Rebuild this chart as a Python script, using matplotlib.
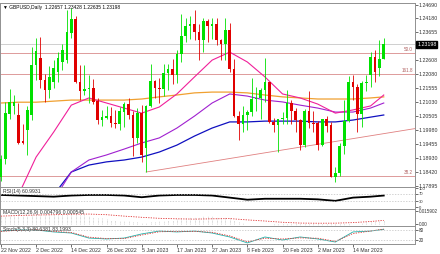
import numpy as np
import matplotlib
matplotlib.use("Agg")
import matplotlib.pyplot as plt
import matplotlib.transforms as mtransforms

plt.rcParams['font.family'] = ['Liberation Sans', 'DejaVu Sans']

# ---------------------------
# Data
# ---------------------------
date_labels = ["22 Nov 2022", "2 Dec 2022", "14 Dec 2022", "26 Dec 2022", "5 Jan 2023",
               "17 Jan 2023", "27 Jan 2023", "8 Feb 2023", "20 Feb 2023", "2 Mar 2023", "14 Mar 2023"]
date_bars = [0, 8, 16, 24, 32, 40, 48, 56, 64, 72, 80]

opens = [1.1823, 1.1888, 1.2060, 1.2090, 1.2055, 1.1955, 1.2000, 1.2055, 1.2243, 1.2269,
         1.2187, 1.2149, 1.2179, 1.2216, 1.2254, 1.2262, 1.2363, 1.2416, 1.2179, 1.2145,
         1.2153, 1.2156, 1.2105, 1.2035, 1.2045, 1.2050, 1.2026, 1.2023, 1.2068, 1.2097,
         1.2055, 1.1970, 1.2063, 1.1931, 1.2089, 1.2181, 1.2155, 1.2152, 1.2212, 1.2228,
         1.2204, 1.2284, 1.2352, 1.2390, 1.2395, 1.2365, 1.2336, 1.2406, 1.2390, 1.2395,
         1.2335, 1.2320, 1.2374, 1.2227, 1.2051, 1.2020, 1.2056, 1.2067, 1.2114, 1.2118,
         1.2147, 1.2177, 1.2027, 1.2019, 1.2039, 1.2042, 1.2099, 1.2071, 1.2036, 1.1942,
         1.2069, 1.2026, 1.2023, 1.1943, 1.2040, 1.2015, 1.1823, 1.1838, 1.1938, 1.2033,
         1.2178, 1.2159, 1.2060, 1.2174, 1.2205, 1.2273, 1.2232, 1.22657]
highs = [1.1903, 1.2105, 1.2154, 1.2130, 1.2100, 1.2020, 1.2090, 1.2310, 1.2345, 1.2348,
         1.2210, 1.2240, 1.2260, 1.2290, 1.2320, 1.2449, 1.2455, 1.2425, 1.2242, 1.2242,
         1.2205, 1.2190, 1.2118, 1.2075, 1.2090, 1.2085, 1.2075, 1.2085, 1.2105, 1.2118,
         1.2070, 1.2080, 1.2092, 1.2092, 1.2246, 1.2188, 1.2195, 1.2247, 1.2246, 1.2266,
         1.2300, 1.2435, 1.2419, 1.2425, 1.2448, 1.2397, 1.2418, 1.2417, 1.2420, 1.2420,
         1.2340, 1.2418, 1.2401, 1.2265, 1.2070, 1.2090, 1.2075, 1.2195, 1.2160, 1.2155,
         1.2270, 1.2180, 1.2045, 1.2040, 1.2065, 1.2148, 1.2110, 1.2080, 1.2040, 1.2078,
         1.2145, 1.2070, 1.2032, 1.2040, 1.2050, 1.2030, 1.1858, 1.1950, 1.2110, 1.2203,
         1.2205, 1.2170, 1.2183, 1.2204, 1.2290, 1.2300, 1.2336, 1.23428]
lows = [1.1808, 1.1870, 1.2040, 1.2060, 1.1945, 1.1945, 1.1905, 1.2035, 1.2185, 1.2155,
        1.2105, 1.2120, 1.2155, 1.2180, 1.2225, 1.2250, 1.2345, 1.2175, 1.2110, 1.2130,
        1.2100, 1.2095, 1.2020, 1.2015, 1.2040, 1.2010, 1.2005, 1.2000, 1.2010, 1.2040,
        1.1900, 1.1950, 1.1880, 1.1841, 1.2085, 1.2120, 1.2100, 1.2125, 1.2150, 1.2170,
        1.2175, 1.2255, 1.2330, 1.2340, 1.2335, 1.2262, 1.2290, 1.2330, 1.2340, 1.2316,
        1.2262, 1.2262, 1.2215, 1.2048, 1.1962, 1.1990, 1.2000, 1.2050, 1.2070, 1.2040,
        1.2105, 1.2025, 1.1990, 1.1915, 1.2020, 1.2022, 1.2020, 1.1990, 1.1923, 1.1935,
        1.2005, 1.1993, 1.1925, 1.1940, 1.1990, 1.1823, 1.1803, 1.1825, 1.1910, 1.2030,
        1.2110, 1.1990, 1.2010, 1.2145, 1.2160, 1.2180, 1.2200, 1.22635]
closes = [1.1888, 1.2060, 1.2104, 1.2104, 1.1950, 1.1950, 1.2074, 1.2243, 1.2293, 1.2187,
          1.2150, 1.2198, 1.2231, 1.2269, 1.2299, 1.2367, 1.2416, 1.2179, 1.2145, 1.2153,
          1.2156, 1.2105, 1.2035, 1.2045, 1.2050, 1.2026, 1.2023, 1.2068, 1.2097, 1.2055,
          1.1970, 1.2063, 1.1905, 1.2089, 1.2181, 1.2155, 1.2152, 1.2212, 1.2228, 1.2204,
          1.2284, 1.2352, 1.2390, 1.2395, 1.2365, 1.2336, 1.2406, 1.2390, 1.2395, 1.2335,
          1.2320, 1.2374, 1.2227, 1.2051, 1.2020, 1.2056, 1.2067, 1.2114, 1.2118, 1.2147,
          1.2177, 1.2027, 1.2019, 1.2039, 1.2042, 1.2099, 1.2071, 1.2036, 1.1942, 1.2069,
          1.2026, 1.2023, 1.1943, 1.2040, 1.2015, 1.1823, 1.1838, 1.1938, 1.2033, 1.2178,
          1.2159, 1.2060, 1.2174, 1.2177, 1.2273, 1.2216, 1.2265, 1.23198]

# moving averages, read every 4 bars
ma_bars = [0, 4, 8, 12, 16, 20, 24, 28, 32, 36, 40, 44, 48, 52, 56, 60, 64, 68, 72, 76, 80, 84, 87]
ma_pink = [1.1620, 1.1755, 1.1897, 1.1991, 1.2092, 1.2119, 1.2100, 1.2081, 1.2062, 1.2085, 1.2134, 1.2198,
           1.2261, 1.2291, 1.2254, 1.2198, 1.2134, 1.2119, 1.2096, 1.2062, 1.2074, 1.2089, 1.2130]
ma_purple = [1.1600, 1.1640, 1.1680, 1.1736, 1.1841, 1.1886, 1.1905, 1.1927, 1.1950, 1.1969, 1.2006, 1.2051,
             1.2100, 1.2134, 1.2126, 1.2111, 1.2104, 1.2092, 1.2081, 1.2066, 1.2066, 1.2081, 1.2100]
ma_blue = [1.1500, 1.1550, 1.1600, 1.1755, 1.1841, 1.1867, 1.1879, 1.1886, 1.1897, 1.1916, 1.1942, 1.1976,
           1.2006, 1.2029, 1.2029, 1.2032, 1.2032, 1.2032, 1.2029, 1.2029, 1.2036, 1.2047, 1.2055]
ma_orange = [1.2100, 1.2103, 1.2103, 1.2107, 1.2111, 1.2111, 1.2111, 1.2111, 1.2115, 1.2123, 1.2130, 1.2138,
             1.2141, 1.2141, 1.2138, 1.2130, 1.2123, 1.2119, 1.2115, 1.2115, 1.2115, 1.2119, 1.2123]

trend_bars = [33, 87]
trend_prices = [1.1841, 1.1985]

fib_levels = [1.22877, 1.22089, 1.18260]
fib_names = ["50.0", "161.8", "38.2"]
last_price = 1.23198

# 1.23130 sits under the price box in the chart, so it is left out
price_ticks = [1.24690, 1.24180, 1.23655, 1.22608, 1.22080, 1.21555, 1.21030,
               1.20505, 1.19980, 1.19455, 1.18930, 1.18420, 1.17895]

ind_bars = [0, 4, 8, 12, 16, 20, 24, 28, 32, 36, 40, 44, 48, 52, 56, 60, 64, 68, 72, 76, 80, 84, 87]
rsi = [64, 61, 58, 55, 61, 64, 64, 61, 52, 61, 64, 64, 61, 50, 39, 44, 44, 44, 41, 33, 50, 55, 61]
macd_main = [0.0100, 0.0106, 0.0112, 0.0116, 0.0112, 0.0106, 0.0104, 0.0114, 0.0124, 0.0124,
             0.0121, 0.0121, 0.0122, 0.0124, 0.0126, 0.0130, 0.0135, 0.0128, 0.0119, 0.0111,
             0.0104, 0.0094, 0.0081, 0.0071, 0.0062, 0.0053, 0.0045, 0.0041, 0.0039, 0.0034,
             0.0023, 0.0021, 0.0009, 0.0012, 0.0022, 0.0028, 0.0032, 0.0040, 0.0047, 0.0050,
             0.0059, 0.0070, 0.0081, 0.0089, 0.0092, 0.0092, 0.0097, 0.0098, 0.0098, 0.0093,
             0.0087, 0.0088, 0.0073, 0.0047, 0.0024, 0.0009, -0.0002, -0.0004, -0.0005, -0.0004,
             -0.0001, -0.0006, -0.0009, -0.0011, -0.0012, -0.0010, -0.0009, -0.0010, -0.0014, -0.0012,
             -0.0012, -0.0012, -0.0015, -0.0013, -0.0013, -0.0018, -0.0021, -0.0020, -0.0015, -0.0008,
             0.0002, 0.0006, 0.0014, 0.0022, 0.0030, 0.0036, 0.0041, 0.0048]
macd_signal = [0.0100, 0.0108, 0.0114, 0.0118, 0.0124, 0.0126, 0.0118, 0.0100, 0.0085, 0.0072, 0.0066, 0.0062,
               0.0066, 0.0069, 0.0052, 0.0038, 0.0022, 0.0012, 0.0010, 0.0011, 0.0018, 0.0032, 0.0046]
stoch_main = [72, 78, 78, 67, 61, 33, 28, 33, 56, 72, 67, 72, 61, 39, 6, 39, 22, 39, 28, 11, 67, 72, 81]
stoch_signal = [70, 76, 79, 70, 64, 38, 30, 30, 50, 68, 70, 70, 65, 45, 12, 32, 28, 34, 32, 15, 58, 72, 83]

# ---------------------------
# Figure layout (pixel boxes, top origin)
# ---------------------------
W, H = 440, 254
fig = plt.figure(figsize=(W / 100, H / 100), dpi=100)
fig.patch.set_facecolor("white")


def box(x0, y0, x1, y1):
    return [x0 / W, 1 - y1 / H, (x1 - x0) / W, (y1 - y0) / H]


ax = fig.add_axes(box(0, 3, 415, 187))
ax_rsi = fig.add_axes(box(0, 187, 415, 209), sharex=ax)
ax_macd = fig.add_axes(box(0, 209, 415, 226), sharex=ax)
ax_st = fig.add_axes(box(0, 226, 415, 244), sharex=ax)

fs = 3.8
small = 3.3
lab_fs = 3.7
frame = "#909090"
txt = "#333333"
for a in (ax, ax_rsi, ax_macd, ax_st):
    a.set_facecolor("white")
    for s in a.spines.values():
        s.set_color(frame)
        s.set_linewidth(0.7)
    a.yaxis.tick_right()
    a.tick_params(axis="y", length=2, width=0.5, pad=0.8, labelsize=fs, colors=txt)
    a.tick_params(axis="x", length=0, labelbottom=False)

xlim = (-0.2, 94.1)
ax.set_xlim(*xlim)

# ---------------------------
# Main price panel
# ---------------------------
ax.set_ylim(1.17847, 1.24754)
x = np.arange(len(opens))
o = np.array(opens)
c = np.array(closes)
up = c >= o
green, red = "#00e000", "#e00000"
cols = np.where(up, green, red)
ax.vlines(x, lows, highs, colors=cols, linewidth=0.6, zorder=3)
ax.bar(x, np.abs(c - o) + 0.00008, bottom=np.minimum(o, c), width=0.62, color=cols,
       linewidth=0, zorder=4)

ax.plot(ma_bars, ma_orange, color="#f0a030", lw=0.9, zorder=2)
ax.plot(ma_bars, ma_blue, color="#1010c0", lw=0.9, zorder=2)
ax.plot(ma_bars, ma_purple, color="#a020d0", lw=0.8, zorder=2)
ax.plot(ma_bars, ma_pink, color="#f0209a", lw=0.8, zorder=2)

# trend line extended to the right edge
slope = (trend_prices[1] - trend_prices[0]) / (trend_bars[1] - trend_bars[0])
ax.plot([trend_bars[0], xlim[1]],
        [trend_prices[0], trend_prices[0] + slope * (xlim[1] - trend_bars[0])],
        color="#e08080", lw=0.6, zorder=2)

for lvl, name in zip(fib_levels, fib_names):
    ax.axhline(lvl, color="#d88a8a", lw=0.6, zorder=1)
    ax.text(93.6, lvl + 0.0003, name, ha="right", va="bottom", fontsize=small, color="#b06060")

ax.axhline(last_price, color="#c8c8c8", lw=0.6, zorder=1)

ax.set_yticks(price_ticks)
ax.set_yticklabels([f"{v:.5f}" for v in price_ticks])
trans = mtransforms.blended_transform_factory(ax.transAxes, ax.transData)
ax.text(1.005, last_price, f"{last_price:.5f}", transform=trans, ha="left", va="center",
        fontsize=fs, color="white", zorder=10,
        bbox=dict(boxstyle="square,pad=0.12", fc="black", ec="black"))
ax.text(0.008, 0.99, "\u25bc GBPUSD,Daily  1.22657 1.23428 1.22635 1.23198", transform=ax.transAxes,
        ha="left", va="top", fontsize=3.5, color="black")

# ---------------------------
# RSI
# ---------------------------
ax_rsi.set_ylim(-10, 106)
ax_rsi.plot(ind_bars, rsi, color="black", lw=1.3)
for lvl in (30, 70):
    ax_rsi.axhline(lvl, color="#c0c0c0", lw=0.5, ls=(0, (2, 2)))
ax_rsi.set_yticks([100, 70, 30, 0])
ax_rsi.set_yticklabels(["100", "70", "30", "0"], fontsize=3.0)
ax_rsi.text(0.008, 0.93, "RSI(14) 60.9931", transform=ax_rsi.transAxes, ha="left", va="top",
            fontsize=lab_fs, color=txt)

# ---------------------------
# MACD
# ---------------------------
ax_macd.set_ylim(-0.0025, 0.0190)
ax_macd.vlines(x, 0, macd_main, colors="#b8b8b8", linewidth=0.5, linestyles=(0, (1, 1)))
ax_macd.plot(ind_bars, macd_signal, color="#e03030", lw=0.6, ls=(0, (1.5, 1.5)))
ax_macd.set_yticks([0.015902, 0.0])
ax_macd.set_yticklabels(["0.015902", "0.00"], fontsize=small)
ax_macd.text(0.008, 0.93, "MACD(12,26,9) 0.004796 0.000545", transform=ax_macd.transAxes,
             ha="left", va="top", fontsize=lab_fs, color=txt)

# ---------------------------
# Stochastic
# ---------------------------
ax_st.set_ylim(0, 100)
ax_st.plot(ind_bars, stoch_main, color="#20b2aa", lw=0.6)
ax_st.plot(ind_bars, stoch_signal, color="#e03030", lw=0.6, ls=(0, (1.5, 1.5)))
for lvl in (20, 80):
    ax_st.axhline(lvl, color="#c0c0c0", lw=0.5, ls=(0, (2, 2)))
ax_st.set_yticks([80, 20])
ax_st.set_yticklabels(["80", "20"], fontsize=small)
ax_st.text(0.008, 0.93, "Stoch(5,3,3) 80.6381 83.1993", transform=ax_st.transAxes,
           ha="left", va="top", fontsize=lab_fs, color=txt)

ax_st.set_xticks(date_bars)
ax_st.set_xticklabels(date_labels)
ax_st.tick_params(axis="x", length=2, width=0.5, pad=1, labelsize=fs, colors=txt,
                  labelbottom=True)
for lab in ax_st.get_xticklabels():
    lab.set_ha("left")

fig.savefig("out.png", dpi=100, facecolor="white")
